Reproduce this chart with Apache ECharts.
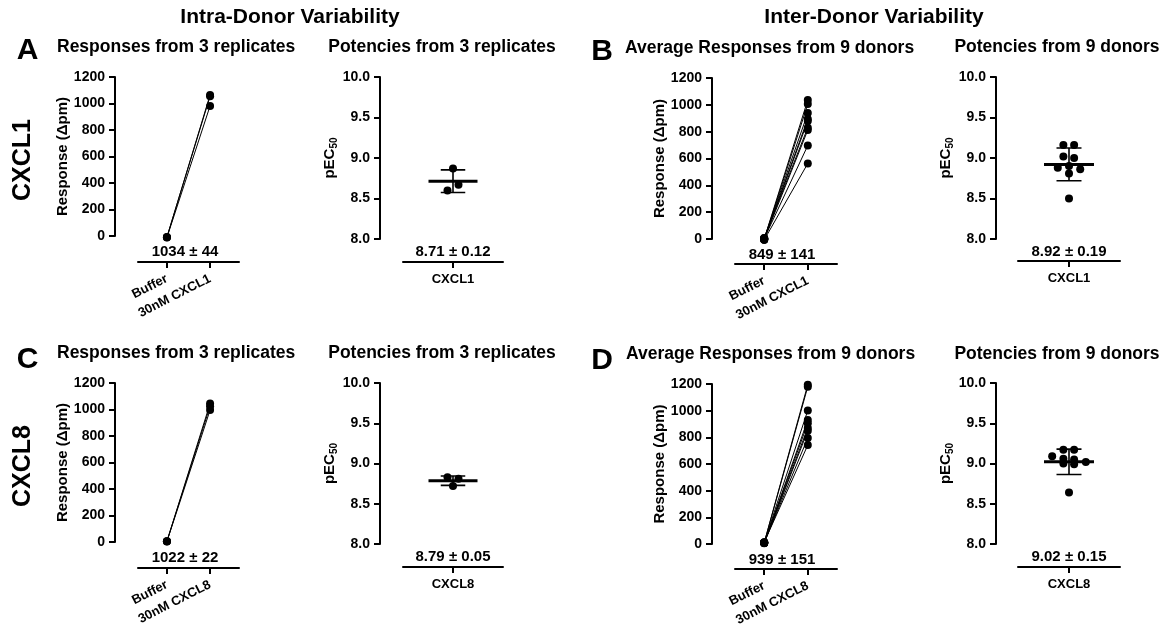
<!DOCTYPE html>
<html><head><meta charset="utf-8">
<script src="https://cdn.jsdelivr.net/npm/echarts@6/dist/echarts.min.js"></script>
<style>html,body{margin:0;padding:0;background:#fff}#c{width:1169px;height:641px}</style>
</head><body><div id="c"></div>
<script>
// ---------------- data ----------------
const headers = ['Intra-Donor Variability', 'Inter-Donor Variability'];
const panelLetters = ['A', 'B', 'C', 'D'];
const rowLabels = ['CXCL1', 'CXCL8'];
const subtitles = ['Responses from 3 replicates', 'Potencies from 3 replicates',
                   'Average Responses from 9 donors', 'Potencies from 9 donors',
                   'Responses from 3 replicates', 'Potencies from 3 replicates',
                   'Average Responses from 9 donors', 'Potencies from 9 donors'];
const respCatsCXCL1 = ['Buffer', '30nM CXCL1'];
const respCatsCXCL8 = ['Buffer', '30nM CXCL8'];
const potCatCXCL1 = ['CXCL1'];
const potCatCXCL8 = ['CXCL8'];
const summaryLabels = ['1034 ± 44', '8.71 ± 0.12', '849 ± 141', '8.92 ± 0.19',
                       '1022 ± 22', '8.79 ± 0.05', '939 ± 151', '9.02 ± 0.15'];
const respTicks = [0, 200, 400, 600, 800, 1000, 1200];
const potTicks = [8.0, 8.5, 9.0, 9.5, 10.0];

// A: CXCL1, 3 replicates
const bufferA = [-10, -8, -12];
const stimA = [1065, 1055, 982];
const potA = [8.87, 8.60, 8.67];
const jitterA = [0, -0.11, 0.11];
// B: CXCL1, 9 donors
const bufferB = [0, -5, 5, 2, -3, 8, -2, 3, -6];
const stimB = [1036, 1006, 939, 895, 880, 830, 812, 697, 563];
const potB = [9.16, 9.16, 9.02, 9.00, 8.88, 8.90, 8.86, 8.81, 8.50];
const jitterB = [-0.11, 0.10, -0.11, 0.10, -0.22, 0, 0.22, 0, 0];
// C: CXCL8, 3 replicates
const bufferC = [5, 6, 4];
const stimC = [1045, 1025, 996];
const potC = [8.83, 8.81, 8.72];
const jitterC = [-0.11, 0.11, 0];
// D: CXCL8, 9 donors
const bufferD = [10, 8, 12, 6, 9, 11, 7, 10, 13];
const stimD = [1195, 1180, 1002, 930, 905, 870, 850, 795, 742];
const potD = [9.17, 9.17, 9.09, 9.06, 9.00, 9.05, 8.99, 9.02, 8.64];
const jitterD = [-0.11, 0.10, -0.33, -0.11, -0.11, 0.10, 0.10, 0.33, 0];

// ---------------- layout ----------------
const FF = '"Liberation Sans", Arial, Helvetica, sans-serif';
const BLACK = '#000';
const layout = [
  {left: 138, top: 77, w: 101, h: 159, yo: 23, xo: 26},
  {left: 403, top: 77, w: 100, h: 162, yo: 23, xo: 23},
  {left: 735, top: 78, w: 102, h: 161, yo: 23, xo: 25},
  {left: 1018, top: 77, w: 102, h: 162, yo: 22, xo: 22},
  {left: 138, top: 383, w: 101, h: 159, yo: 23, xo: 26},
  {left: 403, top: 383, w: 100, h: 161, yo: 23, xo: 23},
  {left: 735, top: 384, w: 102, h: 160, yo: 23, xo: 25},
  {left: 1018, top: 383, w: 102, h: 161, yo: 22, xo: 23}
];
const panels = [
  {kind: 'resp', cats: respCatsCXCL1, buf: bufferA, stim: stimA},
  {kind: 'pot', cats: potCatCXCL1, vals: potA, jit: jitterA},
  {kind: 'resp', cats: respCatsCXCL1, buf: bufferB, stim: stimB},
  {kind: 'pot', cats: potCatCXCL1, vals: potB, jit: jitterB},
  {kind: 'resp', cats: respCatsCXCL8, buf: bufferC, stim: stimC},
  {kind: 'pot', cats: potCatCXCL8, vals: potC, jit: jitterC},
  {kind: 'resp', cats: respCatsCXCL8, buf: bufferD, stim: stimD},
  {kind: 'pot', cats: potCatCXCL8, vals: potD, jit: jitterD}
];

const axisLineStyle = {color: BLACK, width: 2};
const grids = [], xAxes = [], yAxes = [], series = [], graphics = [];

function txt(x, y, text, size, opts) {
  opts = opts || {};
  graphics.push({
    type: 'text', x: x, y: y, rotation: opts.rotation || 0, silent: true,
    style: {text: text, fill: BLACK, fontSize: size, fontWeight: 'bold', fontFamily: FF,
            align: opts.align || 'center', verticalAlign: 'middle'}
  });
}

panels.forEach(function (p, gi) {
  const L = layout[gi];
  grids.push({left: L.left, top: L.top, width: L.w, height: L.h, containLabel: false, outerBoundsMode: 'none'});
  const isResp = p.kind === 'resp';
  const ticks = isResp ? respTicks : potTicks;
  xAxes.push({
    gridIndex: gi, type: 'value', min: isResp ? -0.67 : -1, max: isResp ? 1.67 : 1,
    offset: L.xo, splitLine: {show: false},
    axisLine: {show: true, onZero: false, lineStyle: axisLineStyle},
    axisTick: {show: true, customValues: isResp ? [0, 1] : [0], length: 6, lineStyle: axisLineStyle},
    axisLabel: {show: true, customValues: isResp ? [0, 1] : [0],
      formatter: function (v) { return p.cats[Math.round(v)]; },
      rotate: isResp ? 27 : 0, margin: isResp ? 16 : 11,
      fontSize: 13, fontWeight: 'bold', color: BLACK, fontFamily: FF}
  });
  yAxes.push({
    gridIndex: gi, type: 'value', min: ticks[0], max: ticks[ticks.length - 1],
    interval: ticks[1] - ticks[0], offset: L.yo, splitLine: {show: false},
    axisLine: {show: true, onZero: false, lineStyle: axisLineStyle},
    axisTick: {show: true, length: 6, lineStyle: axisLineStyle},
    axisLabel: {show: true, margin: 10, fontSize: 14, fontWeight: 'bold', color: BLACK, fontFamily: FF,
      formatter: function (v) { return isResp ? String(v) : v.toFixed(1); }},
    name: isResp ? 'Response (Δpm)' : '{a|pEC}{b|50}',
    nameLocation: 'middle', nameGap: isResp ? 44 : 40,
    nameTextStyle: isResp ? {fontSize: 15, fontWeight: 'bold', color: BLACK, fontFamily: FF} : {
      color: BLACK,
      rich: {
        a: {fontSize: 15, fontWeight: 'bold', fontFamily: FF, color: BLACK, lineHeight: 18, verticalAlign: 'middle'},
        b: {fontSize: 10, fontWeight: 'bold', fontFamily: FF, color: BLACK, lineHeight: 8, verticalAlign: 'bottom'}
      }
    }
  });

  if (isResp) {
    p.buf.forEach(function (b, i) {
      series.push({
        type: 'line', xAxisIndex: gi, yAxisIndex: gi, data: [[0, b], [1, p.stim[i]]],
        symbol: 'circle', symbolSize: 8, clip: false, silent: true, animation: false,
        itemStyle: {color: BLACK, opacity: 1}, lineStyle: {color: BLACK, width: 1}
      });
    });
  } else {
    const n = p.vals.length;
    const mean = p.vals.reduce(function (a, b) { return a + b; }, 0) / n;
    const sd = Math.sqrt(p.vals.reduce(function (a, b) { return a + (b - mean) * (b - mean); }, 0) / (n - 1));
    series.push({
      type: 'scatter', xAxisIndex: gi, yAxisIndex: gi, symbol: 'circle', symbolSize: 8,
      clip: false, silent: true, animation: false, itemStyle: {color: BLACK, opacity: 1},
      data: p.vals.map(function (v, i) { return [p.jit[i], v]; })
    });
    const segs = [
      {d: [[-0.49, mean], [0.49, mean]], w: 3},
      {d: [[0, mean - sd], [0, mean + sd]], w: 1.6},
      {d: [[-0.245, mean + sd], [0.245, mean + sd]], w: 1.6},
      {d: [[-0.245, mean - sd], [0.245, mean - sd]], w: 1.6}
    ];
    segs.forEach(function (s) {
      series.push({
        type: 'line', xAxisIndex: gi, yAxisIndex: gi, data: s.d, symbol: 'none',
        clip: false, silent: true, animation: false, lineStyle: {color: BLACK, width: s.w}
      });
    });
  }
  // summary text between plot and axis
  const sx = isResp ? L.left + 47 : L.left + L.w / 2;
  const sy = L.top + L.h + (isResp ? 16 : 12.5);
  txt(sx, sy, summaryLabels[gi], 15);
});

// subtitles
const subPos = [
  [57, 47, 'left'], [442, 47, 'center'], [625, 48, 'left'], [1057, 47, 'center'],
  [57, 353, 'left'], [442, 353, 'center'], [626, 354, 'left'], [1057, 354, 'center']
];
subtitles.forEach(function (s, i) { txt(subPos[i][0], subPos[i][1], s, 17.5, {align: subPos[i][2]}); });
// headers
txt(290, 17, headers[0], 21);
txt(874, 17, headers[1], 21);
// panel letters
const letterPos = [[27.5, 51], [602, 52], [27.5, 360], [602, 361]];
panelLetters.forEach(function (l, i) { txt(letterPos[i][0], letterPos[i][1], l, 30); });
// row labels
txt(23, 160, rowLabels[0], 25, {rotation: Math.PI / 2});
txt(23, 466, rowLabels[1], 25, {rotation: Math.PI / 2});

const chart = echarts.init(document.getElementById('c'), null, {renderer: 'canvas'});
chart.setOption({
  backgroundColor: '#fff', animation: false,
  grid: grids, xAxis: xAxes, yAxis: yAxes, series: series, graphic: graphics
});
</script></body></html>
